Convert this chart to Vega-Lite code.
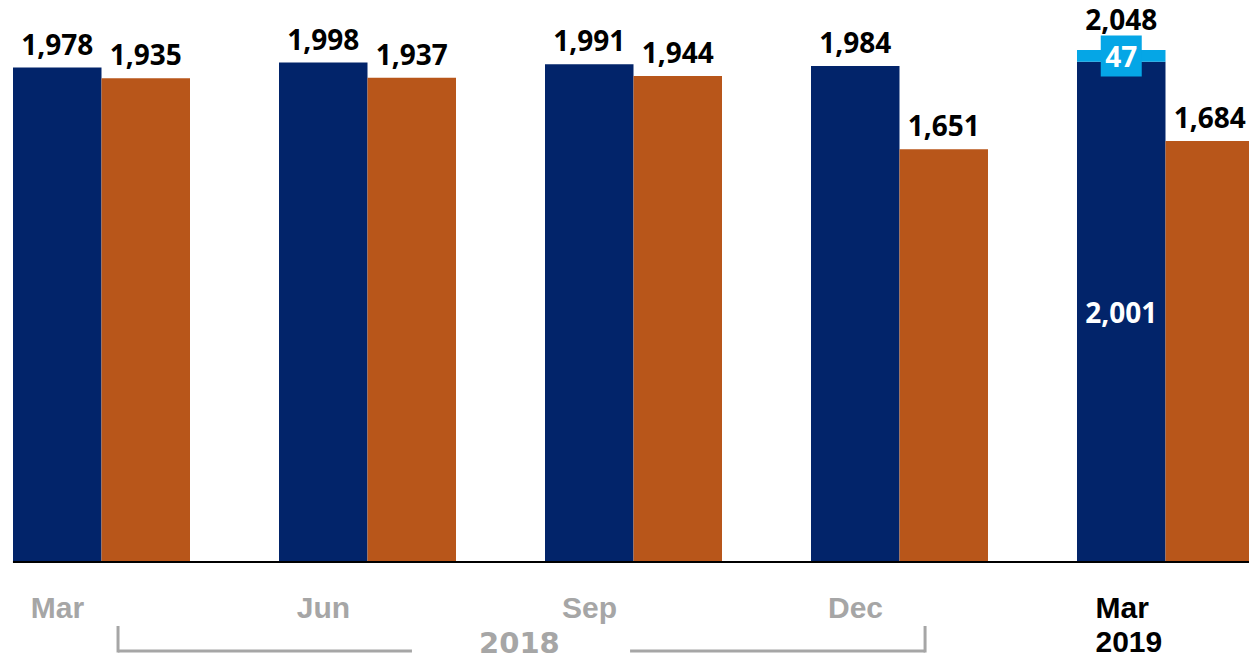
{
  "$schema": "https://vega.github.io/schema/vega-lite/v6.json",
  "width": 1249,
  "height": 562,
  "autosize": {"type": "none"},
  "padding": {"left": 0, "top": 0, "right": 0, "bottom": 100},
  "background": "white",
  "config": {"view": {"stroke": null}},
  "layer": [
    {
      "data": {
        "values": [
          {"period": "Mar 2018", "series": "A", "seg": "A", "start": 0, "end": 1978, "value": 1978},
          {"period": "Mar 2018", "series": "B", "seg": "B", "start": 0, "end": 1935, "value": 1935},
          {"period": "Jun 2018", "series": "A", "seg": "A", "start": 0, "end": 1998, "value": 1998},
          {"period": "Jun 2018", "series": "B", "seg": "B", "start": 0, "end": 1937, "value": 1937},
          {"period": "Sep 2018", "series": "A", "seg": "A", "start": 0, "end": 1991, "value": 1991},
          {"period": "Sep 2018", "series": "B", "seg": "B", "start": 0, "end": 1944, "value": 1944},
          {"period": "Dec 2018", "series": "A", "seg": "A", "start": 0, "end": 1984, "value": 1984},
          {"period": "Dec 2018", "series": "B", "seg": "B", "start": 0, "end": 1651, "value": 1651},
          {"period": "Mar 2019", "series": "A", "seg": "A", "start": 0, "end": 2001, "value": 2001},
          {"period": "Mar 2019", "series": "A", "seg": "X", "start": 2001, "end": 2048, "value": 47},
          {"period": "Mar 2019", "series": "B", "seg": "B", "start": 0, "end": 1684, "value": 1684}
        ]
      },
      "encoding": {
        "x": {
          "field": "period",
          "type": "nominal",
          "sort": null,
          "scale": {
            "domain": ["Mar 2018", "Jun 2018", "Sep 2018", "Dec 2018", "Mar 2019"],
            "range": [0, 1267],
            "paddingInner": 0.3346,
            "paddingOuter": 0.0489
          },
          "axis": {
            "title": null,
            "ticks": false,
            "domain": false,
            "grid": false,
            "labelAngle": 0,
            "labelFont": "Liberation Sans",
            "labelFontWeight": "bold",
            "labelFontSize": 30,
            "labelBaseline": "alphabetic",
            "labelPadding": 55,
            "labelLineHeight": 34,
            "labelExpr": "indexof(datum.label, '2019') >= 0 ? ['Mar', '2019'] : slice(datum.label, 0, 3)",
            "labelColor": {"condition": {"test": "indexof(datum.label, '2019') >= 0", "value": "#000000"}, "value": "#A6A6A6"},
            "labelAlign": {"condition": {"test": "indexof(datum.label, '2019') >= 0", "value": "left"}, "value": "center"},
            "labelOffset": {"condition": {"test": "indexof(datum.label, '2019') >= 0", "value": -70}, "value": -44}
          }
        },
        "xOffset": {
          "field": "series",
          "type": "nominal",
          "scale": {"domain": ["A", "B"], "paddingInner": 0, "paddingOuter": 0}
        }
      },
      "layer": [
        {
          "mark": {"type": "bar", "opacity": 1},
          "encoding": {
            "y": {"field": "end", "type": "quantitative", "scale": {"domain": [0, 2248], "nice": false, "zero": false}, "axis": null},
            "y2": {"field": "start"},
            "color": {"field": "seg", "type": "nominal", "scale": {"domain": ["A", "B", "X"], "range": ["#02246A", "#B8561A", "#05A6E6"]}, "legend": null}
          }
        },
        {
          "transform": [{"filter": "datum.seg != 'X' && !(datum.period == 'Mar 2019' && datum.seg == 'A')"}],
          "mark": {"type": "text", "font": "Open Sans", "fontWeight": "bold", "fontSize": 28, "color": "#000000", "baseline": "alphabetic", "align": "center", "dy": -13},
          "encoding": {
            "y": {"field": "end", "type": "quantitative", "scale": {"domain": [0, 2248], "nice": false, "zero": false}},
            "text": {"field": "value", "type": "quantitative", "format": ","}
          }
        },
        {
          "transform": [{"filter": "datum.seg == 'X'"}],
          "mark": {"type": "text", "font": "Open Sans", "fontWeight": "bold", "fontSize": 28, "color": "#000000", "baseline": "alphabetic", "align": "center", "dy": -20.5},
          "encoding": {
            "y": {"field": "end", "type": "quantitative", "scale": {"domain": [0, 2248], "nice": false, "zero": false}},
            "text": {"field": "end", "type": "quantitative", "format": ","}
          }
        },
        {
          "transform": [{"filter": "datum.seg == 'X'"}],
          "mark": {"type": "point", "shape": "square", "filled": true, "size": 1681, "opacity": 1, "color": "#05A6E6", "yOffset": 6},
          "encoding": {
            "y": {"field": "end", "type": "quantitative", "scale": {"domain": [0, 2248], "nice": false, "zero": false}}
          }
        },
        {
          "transform": [{"filter": "datum.seg == 'X'"}],
          "mark": {"type": "text", "font": "Open Sans", "fontWeight": "bold", "fontSize": 28, "color": "#FFFFFF", "baseline": "alphabetic", "align": "center", "dy": 16.7},
          "encoding": {
            "y": {"field": "end", "type": "quantitative", "scale": {"domain": [0, 2248], "nice": false, "zero": false}},
            "text": {"field": "value", "type": "quantitative", "format": ","}
          }
        },
        {
          "transform": [
            {"filter": "datum.period == 'Mar 2019' && datum.seg == 'A'"},
            {"calculate": "(datum.start + datum.end) / 2", "as": "labelPos"}
          ],
          "mark": {"type": "text", "font": "Open Sans", "fontWeight": "bold", "fontSize": 28, "color": "#FFFFFF", "baseline": "alphabetic", "align": "center", "dy": 11},
          "encoding": {
            "y": {"field": "labelPos", "type": "quantitative", "scale": {"domain": [0, 2248], "nice": false, "zero": false}},
            "text": {"field": "value", "type": "quantitative", "format": ","}
          }
        }
      ]
    },
    {
      "data": {"values": [{}]},
      "layer": [
        {
          "mark": {"type": "rule", "color": "#000000", "strokeWidth": 2},
          "encoding": {
            "x": {"datum": -0.331, "type": "quantitative", "scale": {"domain": [-0.3797, 4.3158], "nice": false, "zero": false}, "axis": null},
            "x2": {"datum": 4.3158},
            "y": {"datum": 0, "type": "quantitative", "scale": {"domain": [0, 2248], "nice": false, "zero": false}},
            "y2": {"datum": 0}
          }
        },
        {
          "mark": {"type": "rule", "color": "#A6A6A6", "strokeWidth": 3},
          "encoding": {
            "x": {"datum": 0.064, "type": "quantitative", "scale": {"domain": [-0.3797, 4.3158], "nice": false, "zero": false}, "axis": null},
            "x2": {"datum": 0.064},
            "y": {"datum": -256, "type": "quantitative", "scale": {"domain": [0, 2248], "nice": false, "zero": false}},
            "y2": {"datum": -362}
          }
        },
        {
          "mark": {"type": "rule", "color": "#A6A6A6", "strokeWidth": 3},
          "encoding": {
            "x": {"datum": 0.064, "type": "quantitative", "scale": {"domain": [-0.3797, 4.3158], "nice": false, "zero": false}, "axis": null},
            "x2": {"datum": 1.169},
            "y": {"datum": -356, "type": "quantitative", "scale": {"domain": [0, 2248], "nice": false, "zero": false}},
            "y2": {"datum": -356}
          }
        },
        {
          "mark": {"type": "rule", "color": "#A6A6A6", "strokeWidth": 3},
          "encoding": {
            "x": {"datum": 1.989, "type": "quantitative", "scale": {"domain": [-0.3797, 4.3158], "nice": false, "zero": false}, "axis": null},
            "x2": {"datum": 3.098},
            "y": {"datum": -356, "type": "quantitative", "scale": {"domain": [0, 2248], "nice": false, "zero": false}},
            "y2": {"datum": -356}
          }
        },
        {
          "mark": {"type": "rule", "color": "#A6A6A6", "strokeWidth": 3},
          "encoding": {
            "x": {"datum": 3.098, "type": "quantitative", "scale": {"domain": [-0.3797, 4.3158], "nice": false, "zero": false}, "axis": null},
            "x2": {"datum": 3.098},
            "y": {"datum": -256, "type": "quantitative", "scale": {"domain": [0, 2248], "nice": false, "zero": false}},
            "y2": {"datum": -362}
          }
        },
        {
          "mark": {"type": "text", "font": "DejaVu Sans", "fontWeight": "bold", "fontSize": 29, "color": "#A6A6A6", "align": "center", "baseline": "alphabetic"},
          "encoding": {
            "x": {"datum": 1.573, "type": "quantitative", "scale": {"domain": [-0.3797, 4.3158], "nice": false, "zero": false}, "axis": null},
            "y": {"datum": -362, "type": "quantitative", "scale": {"domain": [0, 2248], "nice": false, "zero": false}},
            "text": {"value": "2018"}
          }
        }
      ]
    }
  ],
  "resolve": {"scale": {"x": "independent"}}
}
